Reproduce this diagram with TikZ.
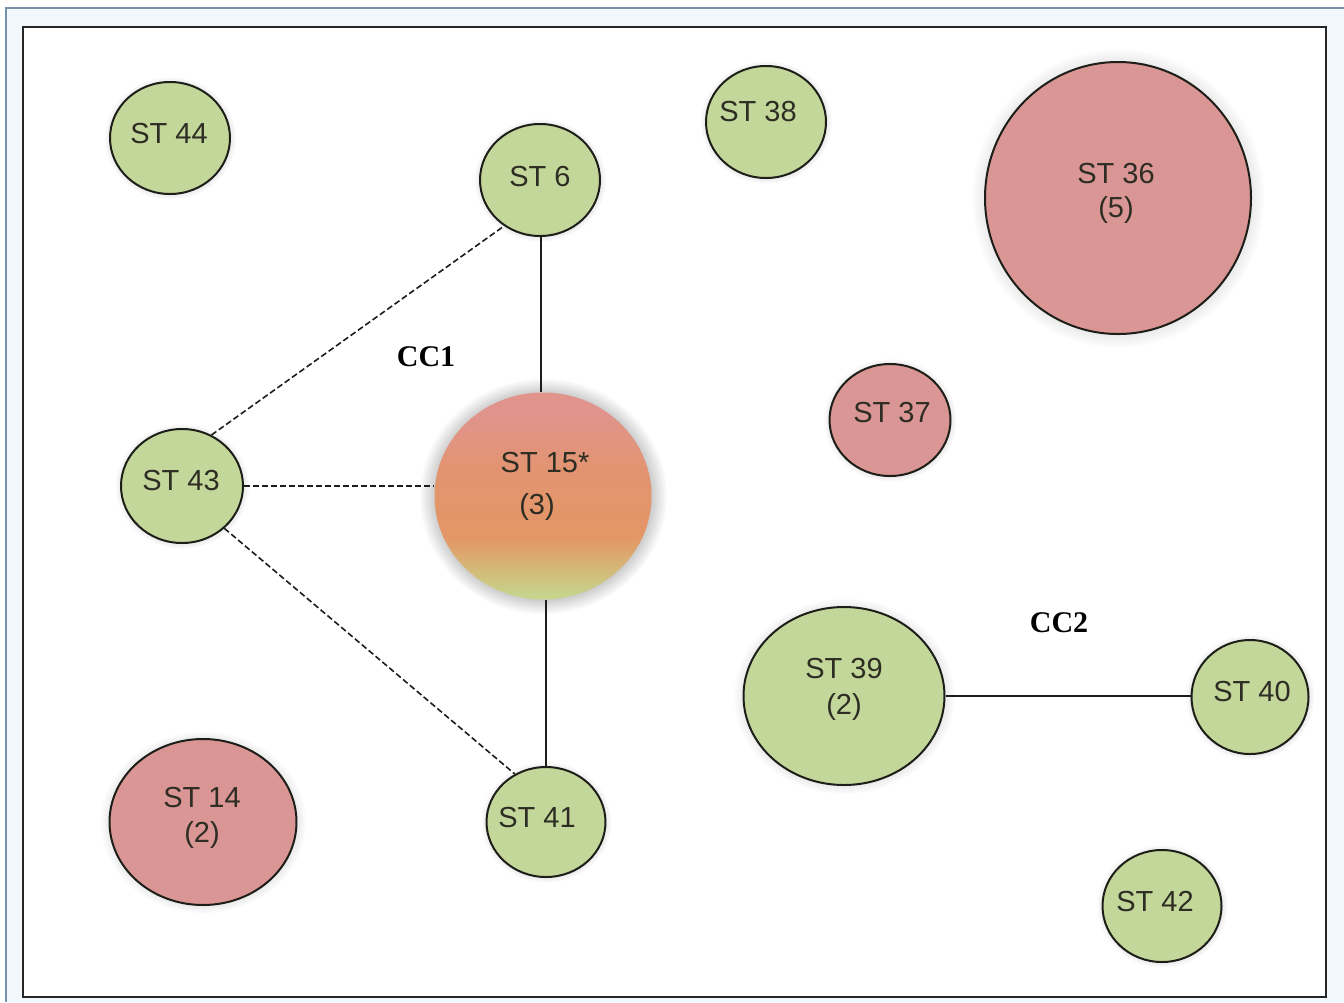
\documentclass[tikz,border=0pt]{standalone}
\usepackage{fontspec}
\setmainfont{Liberation Sans}
\newfontfamily\ccfont{Liberation Serif}
\usetikzlibrary{shapes.geometric,shadows}
\definecolor{stgreen}{RGB}{196,215,155}
\definecolor{stred}{RGB}{217,150,148}
\definecolor{stline}{RGB}{30,30,25}
\definecolor{sttext}{RGB}{45,45,35}
\definecolor{winedge}{RGB}{120,145,170}
\definecolor{winfill}{RGB}{242,248,252}
\definecolor{sfgreen}{RGB}{198,212,140}
\definecolor{sfmix}{RGB}{214,182,118}
\definecolor{sforange}{RGB}{228,150,102}
\definecolor{sforangeb}{RGB}{226,148,112}
\definecolor{sfpink}{RGB}{224,148,140}
\pgfdeclareverticalshading{stfifteen}{100bp}{color(0bp)=(sfgreen); color(26bp)=(sfgreen); color(33bp)=(sfmix); color(40bp)=(sforange); color(56bp)=(sforangeb); color(70bp)=(sfpink); color(100bp)=(sfpink)}
\tikzset{
  stnode/.style={ellipse, draw=stline, line width=1pt, inner sep=0pt,
    circular glow={fill=black!60, opacity=0.22, shadow scale=1.1}},
  greennode/.style={stnode, fill=stgreen},
  rednode/.style={stnode, fill=stred},
  lbl/.style={text=sttext, font=\fontsize{14.5}{17}\selectfont, inner sep=0pt},
  cclbl/.style={text=black, font=\ccfont\bfseries\fontsize{15}{17}\selectfont, inner sep=0pt},
  solidlink/.style={draw=stline, line width=0.9pt},
  dashlink/.style={draw=stline, line width=0.8pt, dash pattern=on 3pt off 1.5pt},
}
\begin{document}
\begin{tikzpicture}[x=0.5pt,y=-0.5pt]
\useasboundingbox (0,0) rectangle (1344,1002);
% window edge and frame
\fill[winfill] (6,8) rectangle (1344,1002);
\draw[winedge, line width=1pt] (6,1002) -- (6,8) -- (1344,8);
\fill[white] (23,27) rectangle (1326,997);
\draw[black!85, line width=1.3pt] (23,27) rectangle (1326,997);

% nodes (shapes); sizes in pt = half of pixels
\node[greennode, minimum width=60pt, minimum height=56pt] (st44) at (170,138) {};
\node[greennode, minimum width=60pt, minimum height=56pt] (st6) at (540,180) {};
\node[greennode, minimum width=60pt, minimum height=56pt] (st38) at (766,122) {};
\node[rednode, minimum width=133pt, minimum height=136pt] (st36) at (1118,198) {};
\node[rednode, minimum width=60.5pt, minimum height=56pt] (st37) at (890,420) {};
\node[greennode, minimum width=61pt, minimum height=57pt] (st43) at (182,486) {};
\node[ellipse, minimum width=108.5pt, minimum height=103.5pt, inner sep=0pt,
  shading=stfifteen,
  circular glow={fill=black!55, opacity=0.42, shadow scale=1.14}] (st15) at (543,496) {};
\node[greennode, minimum width=100.5pt, minimum height=89pt] (st39) at (844,696) {};
\node[greennode, minimum width=58.5pt, minimum height=57pt] (st40) at (1250,697) {};
\node[rednode, minimum width=93.5pt, minimum height=83pt] (st14) at (203,822) {};
\node[greennode, minimum width=59.5pt, minimum height=55pt] (st41) at (546,822) {};
\node[greennode, minimum width=59.5pt, minimum height=56pt] (st42) at (1162,906) {};

% connectors
\draw[solidlink] ([xshift=0.5pt]st6.south) -- ([xshift=0.5pt]st6.south |- st15.north);
\draw[solidlink] (st41.north) -- (st41.north |- st15.south);
\draw[solidlink] (st39.east) -- (st39.east -| st40.west);
\draw[dashlink] (st43.60) -- (st6.232);
\draw[dashlink] (st43.east) -- (st43.east -| st15.west);
\draw[dashlink] (st43.-45) -- (st41.123);

% labels
\node[lbl] (t44) at (169,134) {ST 44};
\node[lbl] (t6) at (540,177) {ST 6};
\node[lbl] (t38) at (758,112) {ST 38};
\node[lbl] (t36a) at (1116,174) {ST 36};
\node[lbl] (t36b) at (1116,210) {(5)};
\node[lbl] (t37) at (892,413) {ST 37};
\node[lbl] (t43) at (181,481) {ST 43};
\node[lbl] (t15a) at (545,463) {ST 15*};
\node[lbl] (t15b) at (537,507) {(3)};
\node[lbl] (t39a) at (844,669) {ST 39};
\node[lbl] (t39b) at (844,707) {(2)};
\node[lbl] (t40) at (1252,692) {ST 40};
\node[lbl] (t14a) at (202,798) {ST 14};
\node[lbl] (t14b) at (202,835) {(2)};
\node[lbl] (t41) at (537,818) {ST 41};
\node[lbl] (t42) at (1155,902) {ST 42};
\node[cclbl] (cc1) at (426,357) {CC1};
\node[cclbl] (cc2) at (1059,623) {CC2};
\end{tikzpicture}
\end{document}
